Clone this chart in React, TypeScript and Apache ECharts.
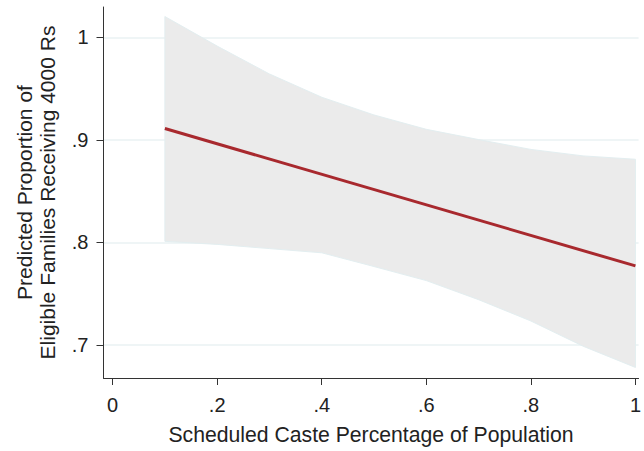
import React, { useEffect, useRef } from "react";
import * as echarts from "echarts";

// Predicted proportion (linear fit) with confidence band
const bandX = [0.1, 0.2, 0.3, 0.4, 0.5, 0.6, 0.7, 0.8, 0.9, 1.0];
const bandUpper = [1.0202, 0.9914, 0.9642, 0.9415, 0.9242, 0.9102, 0.9002, 0.8906, 0.8843, 0.881];
const bandLower = [0.801, 0.798, 0.7939, 0.7898, 0.7764, 0.7627, 0.7441, 0.7233, 0.6987, 0.678];
const fitX = [0.1, 1.0];
const fitY = [0.911, 0.777];
const xTicks = [0, 0.2, 0.4, 0.6, 0.8, 1];
const yTicks = [0.7, 0.8, 0.9, 1];
const xTitle = "Scheduled Caste Percentage of Population";
const yTitle = "Predicted Proportion of\nEligible Families Receiving 4000 Rs";

const FONT = "'Liberation Sans', Arial, Helvetica, sans-serif";
const TEXT = "#222222";

function fmt(v: number): string {
  if (Math.abs(v) < 1e-9) return "0";
  if (Math.abs(v - 1) < 1e-9) return "1";
  return String(Math.round(v * 10) / 10).replace(/^0/, "");
}

export default function App() {
  const ref = useRef<HTMLDivElement>(null);
  useEffect(() => {
    if (!ref.current) return;
    const chart = echarts.init(ref.current, null, { renderer: "svg" });
    const bandData = bandX.map((x, i) => [x, bandLower[i], bandUpper[i]]);
    chart.setOption({
      animation: false,
      backgroundColor: "#ffffff",
      grid: { left: 103.5, right: 0, top: 7, bottom: 67, containLabel: false },
      xAxis: {
        type: "value",
        min: -0.0174,
        max: 1.006,
        name: xTitle,
        nameLocation: "middle",
        nameGap: 44,
        nameTextStyle: { fontFamily: FONT, fontSize: 21.2, color: TEXT, lineHeight: 24 },
        axisLine: { show: true, onZero: false, lineStyle: { color: "#333333", width: 1 } },
        axisTick: { show: true, length: 7, inside: false, customValues: xTicks, lineStyle: { color: "#333333" } },
        axisLabel: {
          customValues: xTicks,
          formatter: (v: number) => fmt(v),
          fontFamily: FONT,
          fontSize: 20,
          color: TEXT,
          margin: 17,
        },
        splitLine: { show: false },
      },
      yAxis: {
        type: "value",
        min: 0.6677,
        max: 1.0295,
        name: yTitle,
        nameLocation: "middle",
        nameRotate: 90,
        nameGap: 45,
        nameTextStyle: { fontFamily: FONT, fontSize: 21, color: TEXT, lineHeight: 23, align: "center" },
        axisLine: { show: true, onZero: false, lineStyle: { color: "#333333", width: 1 } },
        axisTick: { show: true, length: 7, inside: false, customValues: yTicks, lineStyle: { color: "#333333" } },
        axisLabel: {
          customValues: yTicks,
          formatter: (v: number) => fmt(v),
          fontFamily: FONT,
          fontSize: 20,
          color: TEXT,
          margin: 15,
        },
        splitLine: { show: true, lineStyle: { color: "#eaf2f3", width: 1.5 } },
      },
      series: [
        {
          type: "custom",
          name: "CI",
          z: 2,
          data: bandData,
          renderItem: (params: any, api: any) => {
            if (params.dataIndex !== 0) return null;
            const pts: number[][] = [];
            for (let i = 0; i < bandX.length; i++) pts.push(api.coord([bandX[i], bandUpper[i]]));
            for (let i = bandX.length - 1; i >= 0; i--) pts.push(api.coord([bandX[i], bandLower[i]]));
            return {
              type: "polygon",
              shape: { points: pts },
              style: { fill: "#ebebeb", stroke: "#e3eef0", lineWidth: 1 },
            };
          },
          encode: { x: 0, y: [1, 2] },
        },
        {
          type: "line",
          name: "Fit",
          z: 3,
          data: fitX.map((x, i) => [x, fitY[i]]),
          symbol: "none",
          lineStyle: { color: "#a8292e", width: 3 },
        },
      ],
    });
    return () => chart.dispose();
  }, []);
  return (
    <div
      ref={ref}
      style={{ position: "fixed", left: 0, top: 0, width: 644, height: 451, background: "#fff" }}
    />
  );
}
